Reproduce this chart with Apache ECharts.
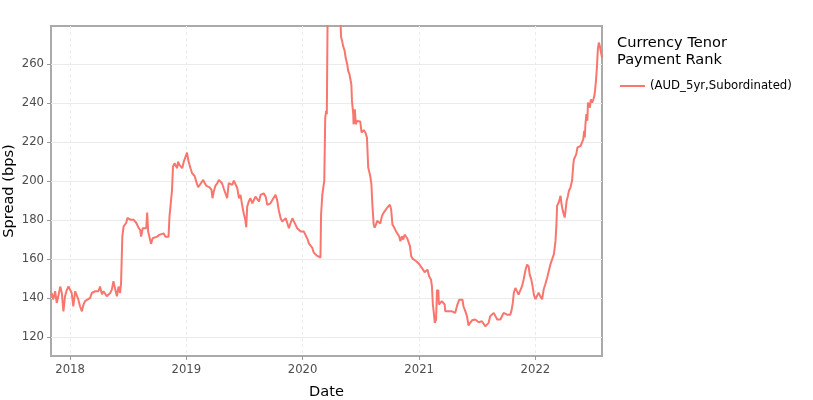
<!DOCTYPE html>
<html>
<head>
<meta charset="utf-8">
<script src="https://cdn.jsdelivr.net/npm/echarts@6/dist/echarts.min.js"></script>
<style>html,body{margin:0;padding:0;background:#fff}#c{width:813px;height:400px}</style>
</head>
<body>
<div id="c"></div>
<script>
const dates = [
'2017-11-02','2017-11-04','2017-11-09','2017-11-15','2017-11-20','2017-11-25','2017-12-01','2017-12-06','2017-12-11','2017-12-16','2017-12-22','2017-12-27',
'2018-01-01','2018-01-06','2018-01-11','2018-01-17','2018-01-22','2018-01-27','2018-02-01','2018-02-07','2018-02-12','2018-02-17','2018-02-23','2018-03-05','2018-03-10','2018-03-15','2018-03-21','2018-03-26','2018-03-31','2018-04-05','2018-04-11','2018-04-16','2018-04-21','2018-04-26','2018-05-01','2018-05-07','2018-05-12','2018-05-17','2018-05-23','2018-05-28','2018-06-02','2018-06-07','2018-06-10','2018-06-14','2018-06-18','2018-06-26','2018-06-30','2018-07-09','2018-07-19','2018-07-28','2018-08-04','2018-08-09','2018-08-12','2018-08-17','2018-08-23','2018-08-28','2018-08-31','2018-09-03','2018-09-07','2018-09-12','2018-09-17','2018-09-23','2018-10-01','2018-10-08','2018-10-14','2018-10-22','2018-10-27','2018-11-01','2018-11-06','2018-11-09','2018-11-13','2018-11-17','2018-11-20','2018-11-25','2018-11-28','2018-12-03','2018-12-06','2018-12-10','2018-12-14','2018-12-19','2018-12-24','2018-12-29',
'2019-01-03','2019-01-08','2019-01-14','2019-01-19','2019-01-27','2019-02-01','2019-02-07','2019-02-12','2019-02-17','2019-02-23','2019-02-28','2019-03-05','2019-03-10','2019-03-15','2019-03-21','2019-03-24','2019-03-28','2019-04-02','2019-04-08','2019-04-13','2019-04-18','2019-04-23','2019-04-28','2019-05-04','2019-05-09','2019-05-14','2019-05-19','2019-05-25','2019-05-30','2019-06-04','2019-06-10','2019-06-15','2019-06-20','2019-06-25','2019-06-30','2019-07-05','2019-07-08','2019-07-11','2019-07-16','2019-07-21','2019-07-27','2019-08-01','2019-08-06','2019-08-11','2019-08-17','2019-08-22','2019-08-27','2019-09-01','2019-09-07','2019-09-12','2019-09-17','2019-09-22','2019-09-28','2019-10-03','2019-10-08','2019-10-13','2019-10-18','2019-10-24','2019-10-29','2019-11-03','2019-11-09','2019-11-14','2019-11-19','2019-11-24','2019-11-30','2019-12-05','2019-12-10','2019-12-15','2019-12-20','2019-12-26','2019-12-31',
'2020-01-05','2020-01-10','2020-01-16','2020-01-21','2020-01-26','2020-01-31','2020-02-05','2020-02-11','2020-02-16','2020-02-21','2020-02-26','2020-02-28','2020-03-03','2020-03-06','2020-03-09','2020-03-12','2020-03-15','2020-03-17','2020-03-18','2020-03-20','2020-03-23','2020-03-26','2020-04-03','2020-04-14','2020-04-24','2020-04-29','2020-05-01','2020-05-04','2020-05-07','2020-05-09','2020-05-12','2020-05-15','2020-05-18','2020-05-20','2020-05-23','2020-05-27','2020-05-30','2020-06-02','2020-06-04','2020-06-08','2020-06-09','2020-06-13','2020-06-16','2020-06-20','2020-06-25','2020-06-30','2020-07-04','2020-07-07','2020-07-11','2020-07-16','2020-07-21','2020-07-25','2020-07-29','2020-08-01','2020-08-04','2020-08-07','2020-08-11','2020-08-14','2020-08-19','2020-08-22','2020-08-27','2020-09-01','2020-09-06','2020-09-11','2020-09-17','2020-09-22','2020-09-27','2020-10-01','2020-10-05','2020-10-09','2020-10-15','2020-10-20','2020-10-25','2020-10-30','2020-11-03','2020-11-08','2020-11-12','2020-11-16','2020-11-20','2020-11-24','2020-11-28','2020-12-03','2020-12-07','2020-12-12','2020-12-17','2020-12-23','2020-12-28',
'2021-01-02','2021-01-07','2021-01-13','2021-01-18','2021-01-23','2021-01-27','2021-02-01','2021-02-07','2021-02-10','2021-02-13','2021-02-16','2021-02-19','2021-02-23','2021-02-26','2021-02-28','2021-03-02','2021-03-04','2021-03-08','2021-03-13','2021-03-18','2021-03-22','2021-03-24','2021-03-29','2021-04-03','2021-04-09','2021-04-14','2021-04-19','2021-04-24','2021-04-27','2021-05-01','2021-05-07','2021-05-12','2021-05-17','2021-05-20','2021-05-26','2021-05-31','2021-06-05','2021-06-10','2021-06-16','2021-06-21','2021-06-26','2021-07-02','2021-07-07','2021-07-12','2021-07-17','2021-07-22','2021-07-28','2021-08-02','2021-08-07','2021-08-12','2021-08-18','2021-08-23','2021-08-28','2021-09-03','2021-09-08','2021-09-13','2021-09-18','2021-09-23','2021-09-29','2021-10-04','2021-10-09','2021-10-14','2021-10-18','2021-10-22','2021-10-25','2021-10-30','2021-11-04','2021-11-09','2021-11-15','2021-11-20','2021-11-25','2021-12-01','2021-12-06','2021-12-11','2021-12-14','2021-12-19','2021-12-23','2021-12-27',
'2022-01-01','2022-01-06','2022-01-11','2022-01-17','2022-01-22','2022-01-27','2022-02-01','2022-02-07','2022-02-12','2022-02-17','2022-02-23','2022-02-28','2022-03-05','2022-03-08','2022-03-10','2022-03-15','2022-03-21','2022-03-24','2022-03-28','2022-04-03','2022-04-05','2022-04-09','2022-04-13','2022-04-16','2022-04-21','2022-04-26','2022-04-30','2022-05-02','2022-05-05','2022-05-09','2022-05-13','2022-05-17','2022-05-23','2022-05-28','2022-05-31','2022-06-03','2022-06-05','2022-06-07','2022-06-10','2022-06-13','2022-06-15','2022-06-18','2022-06-21','2022-06-24','2022-06-28','2022-07-02','2022-07-05','2022-07-07','2022-07-10','2022-07-13','2022-07-16','2022-07-19','2022-07-22','2022-07-26','2022-07-29'
];
const spreads = [
141.5,142.7,139.3,143.6,137.6,141,146,142.7,133.3,141,144.4,146,
145.3,142.7,135.9,143.6,142.7,139.3,135.9,133.3,136.8,138.5,139.3,140.2,142.7,142,143.6,144.4,143.6,146,142,143.6,144.4,141,140.2,142.7,144.4,148.7,144.4,141,146,142.7,147.9,171.8,176.9,178.6,181.2,180.3,180.3,178.6,176.1,175,171.6,175.9,176.8,175.9,184,174.2,173.3,167.9,170.8,170,171.6,172.5,171.6,173.3,171.6,172.5,171.6,181.9,188.7,195.6,207.5,209.2,210.1,206.7,210.1,208.4,209.2,206.7,210.1,211,
214.7,210.1,206.7,204.1,202.7,199.8,196.9,198.1,199,200.7,199,197.6,198.1,196.9,195.6,191.3,194.7,197.6,199,200.7,199.8,199,196.4,197.3,191.3,199,199.8,198.1,200.3,199.8,196.4,191.3,193,187.9,183.6,180.2,176.4,187,189.6,191.3,188.7,190.4,192.1,191.3,189.6,193,193.8,193.8,192.1,187.9,187.9,188.7,190.4,191.3,193,190.4,185.3,181,179.3,178.5,181,178.5,175.9,178.5,181,179.3,177.6,175.9,175,174.2,175,
174.2,172.5,170.5,168,167,166,163.4,162.6,161.7,161.7,160.9,183.1,193.3,196.8,200.2,232.6,236.1,234.4,254.9,295,320,335,325,310,295,281,273.7,272,269.4,270.3,266.8,263.4,262.6,260,256.6,254.9,252.3,249.7,241.2,234.4,229.2,236.9,229.2,230.9,230.1,230.6,225,225.8,226.2,225,222.4,207,204.4,201.9,198.5,188.2,178,176.2,178,179.7,179.7,178.3,182.1,183.8,184.6,186.3,187.2,188,185.5,177.8,176.1,174.4,173.5,171.8,169.2,171.8,170.1,172.6,171.8,170.9,170.1,166.7,161.5,160.2,159.8,159,158.1,
157.3,156.1,154.7,153.3,153.8,154.7,151.3,149.6,146.2,136.8,132.5,127.4,129.1,144.4,139.3,144.4,136.8,137.6,138.5,137.6,136.8,133.3,133.3,133.3,133.8,133.3,133,132.5,133.3,136.8,139.3,140.2,139.3,135.9,133.3,130.8,126,127.4,128.7,129.1,129.1,128.2,127.7,127.4,128.2,127,125.6,126.5,127.4,130.8,131.6,132.5,132.8,129.1,129.1,129.1,130.8,132.5,131.6,131.6,131.1,131.6,133.8,137.6,142.7,145.3,144.4,141.9,142.7,146.2,149.6,154.7,157.3,156.1,152.1,149.6,146.2,141.9,
139.5,140.5,142.9,140.7,139.5,144.6,147.2,150.6,154,157.4,158.3,162.6,169.4,177.9,187.4,189.1,192.5,188.2,184.8,181.4,180.5,189.9,192.5,195,196.8,200.2,208.7,211.3,210.8,213.8,217.3,218.1,218.1,217.6,221.5,225.8,222.4,229.2,234.4,231,240.3,241.2,237.8,242,240.3,242,243.8,246.3,251.5,258.3,267.7,271.1,269.4,270.3,263.4
];
const yTicks = [120, 140, 160, 180, 200, 220, 240, 260];
const xTickDates = ['2018-01-01', '2019-01-01', '2020-01-01', '2021-01-01', '2022-01-01'];
const xRange = ['2017-11-02', '2022-07-29'];
const yRange = [110.4, 279.6];
const seriesName = '(AUD_5yr,Subordinated)';
const legendTitle = 'Currency Tenor\nPayment Rank';
const xTitle = 'Date';
const yTitle = 'Spread (bps)';

const toTime = s => new Date(s + 'T00:00:00').getTime();
const FONT = 'DejaVu Sans';
const data = dates.map((d, i) => [toTime(d), spreads[i]]);
const xTicks = xTickDates.map(toTime);

const chart = echarts.init(document.getElementById('c'), null, {renderer: 'canvas'});
chart.setOption({
  animation: false,
  textStyle: {fontFamily: FONT},
  title: {
    text: legendTitle, left: 617, top: 35, padding: 0,
    textStyle: {fontFamily: FONT, fontSize: 14.6, fontWeight: 'normal', color: '#000', lineHeight: 17}
  },
  legend: {
    left: 615, top: 75, itemWidth: 25, itemHeight: 2, itemGap: 5,
    textStyle: {fontFamily: FONT, fontSize: 11.7, color: '#000'},
    data: [{name: seriesName, icon: 'rect'}]
  },
  grid: {
    left: 51, right: 211, top: 26, bottom: 44,
    containLabel: false, outerBoundsMode: 'none',
    show: true, borderColor: '#aaaaaa', borderWidth: 2, backgroundColor: 'transparent'
  },
  xAxis: {
    type: 'value', min: toTime(xRange[0]), max: toTime(xRange[1]), scale: true,
    name: xTitle, nameLocation: 'middle', nameGap: 29, nameMoveOverlap: false,
    nameTextStyle: {fontFamily: FONT, fontSize: 14.6, color: '#000'},
    axisLine: {show: false},
    axisTick: {show: true, length: 4, lineStyle: {color: '#999'}, customValues: xTicks},
    axisLabel: {
      customValues: xTicks, color: '#4d4d4d', fontSize: 11.7, fontFamily: FONT, margin: 8,
      formatter: v => String(new Date(v).getFullYear())
    },
    splitLine: {show: true, lineStyle: {color: '#ebebeb', width: 1, type: [3, 3]}}
  },
  yAxis: {
    type: 'value', min: yRange[0], max: yRange[1],
    name: yTitle, nameLocation: 'middle', nameGap: 34, nameMoveOverlap: false,
    nameTextStyle: {fontFamily: FONT, fontSize: 14.6, color: '#000'},
    axisLine: {show: false},
    axisTick: {show: true, length: 4, lineStyle: {color: '#999'}, customValues: yTicks},
    axisLabel: {customValues: yTicks, color: '#4d4d4d', fontSize: 11.7, fontFamily: FONT, margin: 7},
    splitLine: {show: true, lineStyle: {color: '#ebebeb', width: 1}}
  },
  series: [{
    name: seriesName, type: 'line', data: data, symbol: 'none', showSymbol: false,
    clip: true,
    lineStyle: {color: '#F8766D', width: 2},
    itemStyle: {color: '#F8766D'}
  }]
});
</script>
</body>
</html>
